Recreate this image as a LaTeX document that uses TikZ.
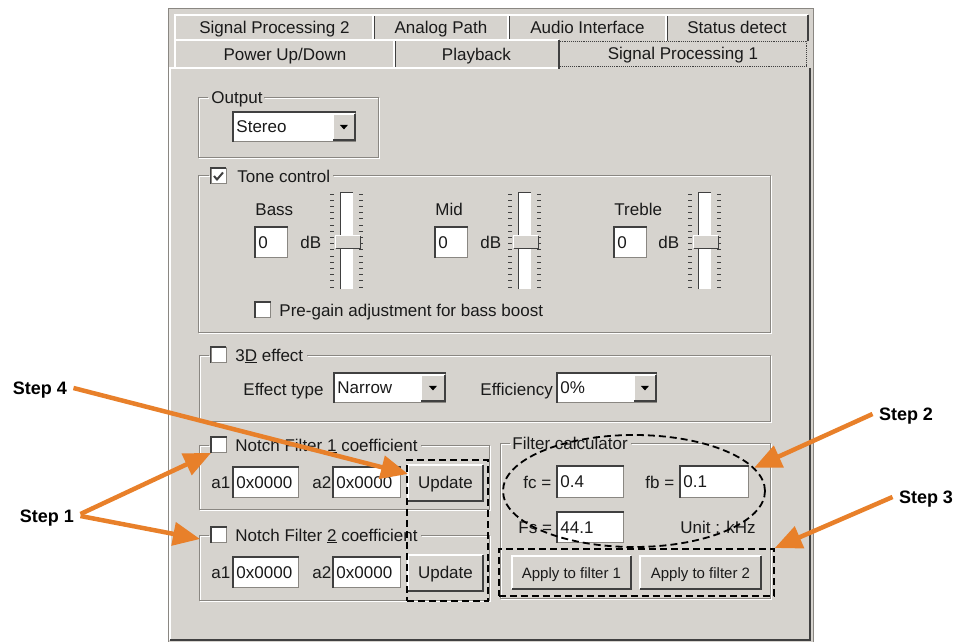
\documentclass[tikz,border=0pt]{standalone}
\usepackage{fontspec}
\setmainfont{Liberation Sans}
\usetikzlibrary{arrows.meta, positioning, calc, shapes.geometric}
\definecolor{guigrey}{HTML}{D6D3CE}
\definecolor{guidark}{HTML}{8A8782}
\definecolor{guiline}{HTML}{404040}
\definecolor{guitext}{HTML}{1A1A1A}
\definecolor{steporange}{HTML}{E8802A}

\begin{document}
\begin{tikzpicture}[x=1pt, y=-1pt, line width=.9pt, font=\fontsize{17}{20}\selectfont, text=guitext,
          lbl/.style={anchor=west, inner sep=0pt, text height=12pt, text depth=0pt},
          tab/.style={fill=guigrey, anchor=north west, inner sep=0pt, minimum width=#1, minimum height=25pt, text height=12pt, text depth=0pt},
          field/.style={fill=white, draw=guidark, anchor=north west, inner xsep=3pt, inner ysep=0pt, text width=#1, align=left, minimum height=30pt, text height=12pt, text depth=0pt},
          btn/.style={fill=guigrey, anchor=north west, inner sep=0pt, minimum width=#1, minimum height=34pt, text height=12pt, text depth=0pt},
          chk/.style={fill=white, draw=guidark, minimum size=15pt, inner sep=0pt},
          sunk/.style={guiline, line width=1.5pt},
          dashbox/.style={draw=black, line width=1.8pt, dash pattern=on 7pt off 4pt, inner sep=0pt},
          steplbl/.style={font=\fontsize{18}{20}\selectfont\bfseries, text=black, inner xsep=6pt, text height=13pt, text depth=0pt},
          steparrow/.style={draw=steporange, line width=4.5pt, -{Triangle[length=27pt, width=23pt]}}]
  \useasboundingbox (0,0) rectangle (956,642);
  \fill[guigrey] (168,8) rectangle (813,642);
  \draw[guidark] (168,642) |- (813,8) -- (813,642);
  % tabs
  \node[tab=198pt] (tsp2) at (175,15) {Signal Processing 2};
  \node[tab=135pt] (tana) at (373,15) {Analog Path};
  \node[tab=158pt] (taud) at (508,15) {Audio Interface};
  \node[tab=141pt] (tstat) at (666,15) {Status detect};
  \node[tab=219pt, minimum height=28pt] (tpow) at (175,40) {Power Up/Down};
  \node[tab=164pt, minimum height=28pt] (tplay) at (394,40) {Playback};
  \node[tab=249pt, minimum height=27pt] (tsp1) at (558,40) {Signal Processing 1};
  \foreach \t in {tsp2,tana,taud,tstat,tpow,tplay} {
    \draw[white, line width=1.2pt] (\t.south west) |- (\t.north east);
    \draw[guiline, line width=1.2pt] (\t.north east) -- (\t.south east);
  }
  \draw[guiline, densely dotted] ([shift={(1pt,1pt)}]tsp1.south west) rectangle ([shift={(-1pt,-1pt)}]tsp1.north east);
  \draw[white, line width=1.2pt] (170,640) |- (558,68);
  \draw[guiline, line width=1.5pt] (170,640) -| (810,68);
  % group frames
  \foreach \xa/\ya/\xb/\yb/\ga/\gb in {198/97/378/157/208/264, 198/175/770/332/209/333, 199/355/770/421/209/307,
      199/445/489/509/209/421, 199/535/489/600/209/421, 500/443/770/598/510/631} {
    \draw[white, xshift=1pt, yshift=-1pt] (\ga,\ya) -| (\xa,\yb) -| (\xb,\ya) -- (\gb,\ya);
    \draw[guidark] (\ga,\ya) -| (\xa,\yb) -| (\xb,\ya) -- (\gb,\ya);
  }
  \node[lbl] (lout) at (211,97) {Output};
  \node[chk] (cbtone) at (218.5,176) {};
  \node[lbl] (ltone) at (237,176) {Tone control};
  \node[chk] (cb3d) at (218.5,355) {};
  \node[lbl] (l3d) at (235,355) {3\underline{D} effect};
  \node[chk] (cbn1) at (219,445) {};
  \node[lbl] (ln1) at (235,445) {Notch Filter \underline{1} coefficient};
  \node[chk] (cbn2) at (219,535) {};
  \node[lbl] (ln2) at (235,535) {Notch Filter \underline{2} coefficient};
  \node[lbl] (lcalc) at (512,443) {Filter calculator};
  % output
  \node[field=116pt, minimum height=29pt] (fout) at (233,112) {Stereo};
  \node[btn=21pt, minimum height=25pt] (dd1) at (333,114) {};
  % tone control
  \node[lbl] (lbass) at (255,209) {Bass};
  \node[field=26pt] (fbass) at (255,227) {0};
  \node[lbl] (dbbass) at (300,242) {dB};
  \node[lbl] (lmid) at (435,209) {Mid};
  \node[field=26pt] (fmid) at (435,227) {0};
  \node[lbl] (dbmid) at (480,242) {dB};
  \node[lbl] (ltreb) at (614,209) {Treble};
  \node[field=26pt] (ftreb) at (614,227) {0};
  \node[lbl] (dbtreb) at (658,242) {dB};
  \foreach \sx/\nm in {347/slb, 525/slm, 705/slt} {
    \foreach \k in {0,...,15}
      \draw[guiline] (\sx-17,194+\k*6.2) -- ++(4,0) (\sx+12,194+\k*6.2) -- ++(4,0);
    \node[fill=white, minimum width=12pt, minimum height=96pt, inner sep=0pt] (\nm) at (\sx,241) {};
    \draw[sunk] (\nm.south west) |- (\nm.north east);
    \node[btn=24pt, minimum height=9pt, anchor=center] (th\nm) at (\sx+1,242) {};
    \draw[white, line width=1.2pt] (th\nm.south west) |- (th\nm.north east);
    \draw[guiline, line width=1.5pt] (th\nm.south west) -| (th\nm.north east);
  }
  \draw[guiline, line width=2pt] ($(cbtone)+(-4.5,0)$) -- ($(cbtone)+(-1.5,3.5)$) -- ($(cbtone)+(4.5,-3.5)$);
  \node[chk] (cbpre) at (263,310) {};
  \node[lbl] (lpre) at (279,310) {Pre-gain adjustment for bass boost};
  % 3D effect
  \node[lbl] (leff) at (243,389) {Effect type};
  \node[field=105pt, minimum height=29pt] (feff) at (334,373) {Narrow};
  \node[btn=23pt, minimum height=25pt] (dd2) at (421,375) {};
  \node[lbl] (lefc) at (480,389) {Efficiency};
  \node[field=93pt, minimum height=29pt] (fefc) at (557,373) {0\%};
  \node[btn=21pt, minimum height=25pt] (dd3) at (634,375) {};
  % notch filters
  \node[lbl] (la11) at (211,482) {a1};
  \node[field=59pt] (fa11) at (233,467) {0x0000};
  \node[lbl] (la12) at (312,482) {a2};
  \node[field=61pt] (fa12) at (333,467) {0x0000};
  \node[btn=74pt, minimum height=35pt] (upd1) at (408,465) {Update};
  \node[lbl] (la21) at (211,572) {a1};
  \node[field=59pt] (fa21) at (233,557) {0x0000};
  \node[lbl] (la22) at (312,572) {a2};
  \node[field=61pt] (fa22) at (333,557) {0x0000};
  \node[btn=74pt, minimum height=35pt] (upd2) at (408,555) {Update};
  % filter calculator
  \node[lbl] (lfc) at (523,482) {fc =};
  \node[field=60pt, minimum height=31pt] (ffc) at (557,466) {0.4};
  \node[lbl] (lfb) at (645,482) {fb =};
  \node[field=62pt, minimum height=31pt] (ffb) at (680,466) {0.1};
  \node[lbl] (lfs) at (518,527) {Fs =};
  \node[field=60pt] (ffs) at (557,512) {44.1};
  \node[lbl] (lunit) at (680,527) {Unit : kHz};
  \node[btn=118pt, minimum height=32pt, font=\fontsize{15}{18}\selectfont] (app1) at (512,556) {Apply to filter 1};
  \node[btn=120pt, minimum height=32pt, font=\fontsize{15}{18}\selectfont] (app2) at (640,556) {Apply to filter 2};
  \foreach \f in {fout,fbass,fmid,ftreb,feff,fefc,fa11,fa12,fa21,fa22,ffc,ffb,ffs,cbtone,cbpre,cb3d,cbn1,cbn2}
    \draw[sunk] (\f.south west) |- (\f.north east);
  \foreach \b in {dd1,dd2,dd3,upd1,upd2,app1,app2} {
    \draw[white, line width=1.2pt] (\b.south west) |- (\b.north east);
    \draw[guiline, line width=1.5pt] (\b.south west) -| (\b.north east);
  }
  \foreach \d in {dd1,dd2,dd3}
    \fill[black] ($(\d)+(-4,-2)$) -- ($(\d)+(4,-2)$) -- ($(\d)+(0,2.5)$) -- cycle;
  % markings
  \node[dashbox, ellipse, minimum width=262pt, minimum height=112pt] (ell) at (634,491) {};
  \node[dashbox, anchor=north west, minimum width=81pt, minimum height=141pt] (updbox) at (406,459) {};
  \node[dashbox, anchor=north west, minimum width=275pt, minimum height=47pt] (appbox) at (498,548) {};
  \node[steplbl] (s4) at (40,388) {Step 4};
  \node[steplbl] (s1) at (47,516) {Step 1};
  \node[steplbl] (s2) at (906,414) {Step 2};
  \node[steplbl] (s3) at (926,497) {Step 3};
  \draw[steparrow] (s4.east) -- ([yshift=9pt]upd1.west);
  \draw[steparrow] ([yshift=2pt]s1.east) -- (cbn1.south west);
  \draw[steparrow] (s1.east) -- ([shift={(-11pt,-4pt)}]cbn2.west);
  \draw[steparrow] (s2.west) -- (ell.11);
  \draw[steparrow] (s3.west) -- (appbox.north east);
\end{tikzpicture}
\end{document}
